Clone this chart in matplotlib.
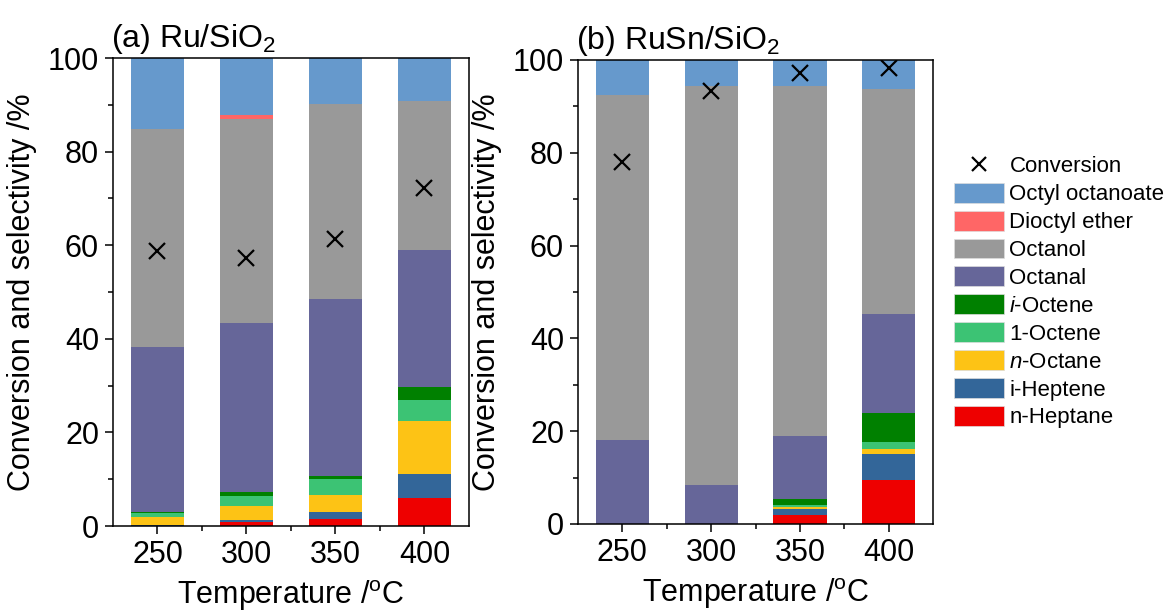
import numpy as np
import matplotlib
matplotlib.use("Agg")
import matplotlib.pyplot as plt
from matplotlib.lines import Line2D
from matplotlib.patches import Patch
from matplotlib.ticker import MultipleLocator, FixedLocator

plt.rcParams["font.family"] = ["Liberation Sans", "DejaVu Sans"]
plt.rcParams["mathtext.fontset"] = "custom"
plt.rcParams["mathtext.rm"] = "Liberation Sans"
plt.rcParams["mathtext.it"] = "Liberation Sans:italic"

# data (bottom -> top)
temps = ["250", "300", "350", "400"]
species = ["n-Heptane", "i-Heptene", "$n$-Octane", "1-Octene", "$i$-Octene",
           "Octanal", "Octanol", "Dioctyl ether", "Octyl octanoate"]
colors = ["#ee0000", "#336699", "#fdc315", "#3cc374", "#008000",
          "#666699", "#999999", "#ff6666", "#6699cc"]

# (a) Ru/SiO2
ru_n_heptane = [0.0, 0.9, 1.4, 6.0]
ru_i_heptene = [0.3, 0.4, 1.5, 5.1]
ru_n_octane = [1.7, 3.0, 3.7, 11.3]
ru_1_octene = [0.7, 2.1, 3.4, 4.6]
ru_i_octene = [0.2, 0.9, 0.7, 2.7]
ru_octanal = [35.4, 36.1, 37.9, 29.3]
ru_octanol = [46.6, 43.5, 41.5, 31.9]
ru_dioctyl_ether = [0.0, 1.0, 0.0, 0.0]
ru_octyl_octanoate = [15.1, 12.1, 9.9, 9.1]
ru_conversion = [58.8, 57.3, 61.4, 72.2]

# (b) RuSn/SiO2
rusn_n_heptane = [0.0, 0.0, 1.9, 9.5]
rusn_i_heptene = [0.0, 0.0, 1.3, 5.6]
rusn_n_octane = [0.0, 0.0, 0.4, 1.1]
rusn_1_octene = [0.0, 0.0, 0.4, 1.5]
rusn_i_octene = [0.0, 0.0, 1.3, 6.2]
rusn_octanal = [18.2, 8.4, 13.6, 21.4]
rusn_octanol = [74.3, 86.0, 75.4, 48.4]
rusn_dioctyl_ether = [0.0, 0.0, 0.0, 0.0]
rusn_octyl_octanoate = [7.5, 5.6, 5.7, 6.3]
rusn_conversion = [78.0, 93.4, 97.3, 98.2]

ru_stack = [ru_n_heptane, ru_i_heptene, ru_n_octane, ru_1_octene, ru_i_octene,
            ru_octanal, ru_octanol, ru_dioctyl_ether, ru_octyl_octanoate]
rusn_stack = [rusn_n_heptane, rusn_i_heptene, rusn_n_octane, rusn_1_octene,
              rusn_i_octene, rusn_octanal, rusn_octanol, rusn_dioctyl_ether,
              rusn_octyl_octanoate]

fig = plt.figure(figsize=(11.71, 6.14), dpi=100)
ax_a = fig.add_axes([0.0965, 0.1433, 0.304, 0.7622])
ax_b = fig.add_axes([0.4936, 0.1466, 0.3032, 0.7557])


def draw_panel(ax, stack, conversion, title):
    x = np.arange(len(temps))
    bottom = np.zeros(len(temps))
    for vals, c in zip(stack, colors):
        ax.bar(x, vals, width=0.6, bottom=bottom, color=c, edgecolor="none")
        bottom += np.array(vals)
    ax.plot(x, conversion, linestyle="none", marker="x", color="black",
            markersize=11, markeredgewidth=1.6)

    ax.set_xlim(-0.5, 3.5)
    ax.set_ylim(0, 100)
    ax.set_xticks(x)
    ax.set_xticklabels(temps)
    ax.xaxis.set_minor_locator(FixedLocator([0.5, 1.5, 2.5]))
    ax.yaxis.set_major_locator(MultipleLocator(20))
    ax.yaxis.set_minor_locator(MultipleLocator(10))
    ax.tick_params(which="both", direction="out", top=False, right=False,
                   width=1.1, labelsize=22, pad=4)
    ax.tick_params(which="major", length=6)
    ax.tick_params(which="minor", length=3.5)
    for s in ax.spines.values():
        s.set_linewidth(1.1)
    ax.set_xlabel("Temperature /$^{\\rm o}$C", fontsize=22, labelpad=6)
    ax.set_ylabel("Conversion and selectivity /%", fontsize=22, labelpad=8)
    ax.set_title(title, loc="left", fontsize=23, pad=8, x=-0.005)


draw_panel(ax_a, ru_stack, ru_conversion, "(a) Ru/SiO$_2$")
draw_panel(ax_b, rusn_stack, rusn_conversion, "(b) RuSn/SiO$_2$")

handles = [Line2D([], [], linestyle="none", marker="x", color="black",
                  markersize=10, markeredgewidth=1.6)]
labels = ["Conversion"]
for name, c in zip(species[::-1], colors[::-1]):
    handles.append(Patch(facecolor=c, edgecolor="#dddddd", linewidth=0.5))
    labels.append(name)

fig.legend(handles, labels, loc="center left", bbox_to_anchor=(0.807, 0.525),
           frameon=False, fontsize=16, handlelength=2.25, handleheight=1.0,
           handletextpad=0.25, labelspacing=0.24, borderaxespad=0)

fig.savefig("out.png", dpi=100)
